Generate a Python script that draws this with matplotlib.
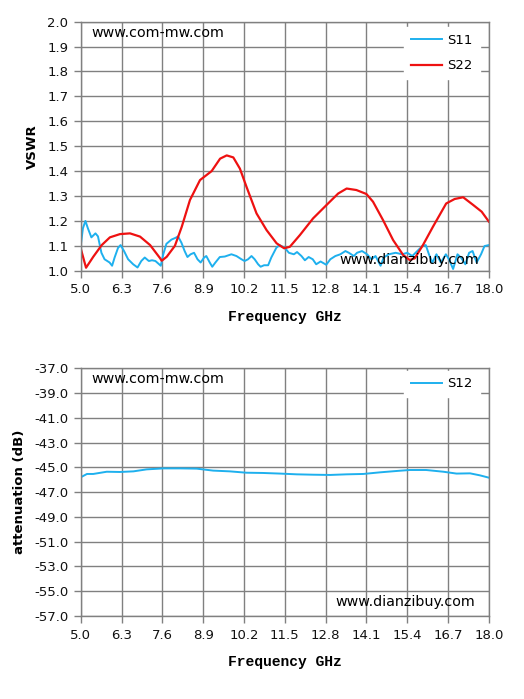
import numpy as np
import matplotlib.pyplot as plt

# S-parameter data
s22_f = [5.0, 5.17, 5.4, 5.67, 5.93, 6.25, 6.57, 6.89, 7.21, 7.53, 7.58, 7.74, 8.0, 8.22,
         8.48, 8.8, 9.17, 9.44, 9.65, 9.86, 10.07, 10.28, 10.6, 10.92, 11.24, 11.48, 11.66,
         11.98, 12.4, 12.83, 13.2, 13.47, 13.78, 14.1, 14.31, 14.63, 14.95, 15.27, 15.48,
         15.64, 15.9, 16.22, 16.64, 16.91, 17.18, 17.5, 17.77, 18.0]
s22 = [1.09, 1.012, 1.056, 1.103, 1.134, 1.147, 1.15, 1.137, 1.103, 1.05, 1.04, 1.056, 1.10,
       1.177, 1.284, 1.364, 1.40, 1.45, 1.463, 1.455, 1.41, 1.337, 1.23, 1.163, 1.11, 1.09,
       1.096, 1.143, 1.21, 1.264, 1.31, 1.33, 1.324, 1.308, 1.277, 1.203, 1.123, 1.063,
       1.043, 1.05, 1.103, 1.177, 1.27, 1.288, 1.295, 1.264, 1.237, 1.197]

s11_f = [5.0, 5.07, 5.15, 5.23, 5.34, 5.47, 5.55, 5.66, 5.76, 5.92, 6.0, 6.08, 6.19, 6.27,
         6.38, 6.51, 6.67, 6.81, 6.93, 7.04, 7.17, 7.27, 7.38, 7.47, 7.55, 7.63, 7.73, 7.89,
         8.02, 8.10, 8.21, 8.31, 8.40, 8.5, 8.61, 8.72, 8.82, 8.93, 9.0, 9.11, 9.19, 9.29,
         9.43, 9.59, 9.8, 9.96, 10.12, 10.22, 10.33, 10.44, 10.54, 10.65, 10.73, 10.84,
         10.97, 11.07, 11.23, 11.33, 11.5, 11.63, 11.79, 11.89, 12.03, 12.14, 12.26, 12.39,
         12.5, 12.64, 12.82, 12.95, 13.11, 13.27, 13.43, 13.54, 13.7, 13.8, 13.96, 14.12,
         14.26, 14.39, 14.55, 14.65, 14.81, 15.03, 15.24, 15.4, 15.56, 15.72, 15.88, 15.99,
         16.09, 16.2, 16.33, 16.47, 16.63, 16.73, 16.86, 17.0, 17.11, 17.25, 17.37, 17.48,
         17.61, 17.75, 17.86, 18.0]
s11 = [1.099, 1.17, 1.20, 1.17, 1.134, 1.15, 1.138, 1.072, 1.046, 1.033, 1.02, 1.053, 1.092,
       1.103, 1.079, 1.046, 1.026, 1.013, 1.039, 1.053, 1.039, 1.042, 1.039, 1.029, 1.02,
       1.066, 1.108, 1.125, 1.132, 1.138, 1.112, 1.079, 1.055, 1.066, 1.072, 1.046, 1.033,
       1.053, 1.059, 1.033, 1.016, 1.033, 1.055, 1.057, 1.066, 1.059, 1.046, 1.039, 1.046,
       1.059, 1.046, 1.026, 1.016, 1.022, 1.022, 1.053, 1.092, 1.103, 1.092, 1.072, 1.066,
       1.075, 1.059, 1.042, 1.055, 1.046, 1.026, 1.037, 1.024, 1.046, 1.059, 1.066, 1.079,
       1.072, 1.059, 1.072, 1.079, 1.066, 1.046, 1.059, 1.02, 1.053, 1.066, 1.072, 1.066,
       1.072, 1.059, 1.079, 1.099, 1.103, 1.066, 1.033, 1.066, 1.033, 1.066, 1.046, 1.007,
       1.066, 1.053, 1.026, 1.072, 1.079, 1.033, 1.066, 1.099, 1.103]

s12_f = [5.0, 5.2, 5.4, 5.83, 6.25, 6.68, 7.1, 7.63, 8.16, 8.69, 9.22, 9.75, 10.28, 10.8,
         11.35, 11.88, 12.4, 12.94, 13.47, 14.0, 14.53, 15.06, 15.48, 16.0, 16.55, 16.97,
         17.4, 17.71, 18.0]
s12 = [-45.8, -45.53, -45.53, -45.35, -45.37, -45.32, -45.16, -45.08, -45.08, -45.1, -45.26,
       -45.32, -45.43, -45.45, -45.5, -45.56, -45.59, -45.61, -45.56, -45.53, -45.4, -45.29,
       -45.21, -45.21, -45.35, -45.5, -45.48, -45.64, -45.83]

xticks = [5.0, 6.3, 7.6, 8.9, 10.2, 11.5, 12.8, 14.1, 15.4, 16.7, 18.0]
vswr_ticks = np.round(np.arange(1.0, 2.01, 0.1), 1)
att_ticks = np.arange(-57.0, -36.9, 2.0)

blue = '#1EB0EE'
red = '#EE1111'
grid_c = '#808080'

fig = plt.figure(figsize=(5.24, 6.99), dpi=100)
ax1 = fig.add_axes([0.154, 0.6127, 0.779, 0.3563])
ax2 = fig.add_axes([0.154, 0.1187, 0.779, 0.3544])


def style(ax, yt, ylab):
    ax.set_xlim(5.0, 18.0)
    ax.set_xticks(xticks)
    ax.set_xticklabels(['%.1f' % v for v in xticks])
    ax.set_yticks(yt)
    ax.set_yticklabels(['%.1f' % v for v in yt])
    ax.set_ylim(yt[0], yt[-1])
    ax.grid(True, color=grid_c, linewidth=1.0)
    ax.set_axisbelow(True)
    for s in ax.spines.values():
        s.set_color(grid_c)
        s.set_linewidth(1.0)
    ax.tick_params(direction='out', length=5, width=1, color=grid_c,
                   labelsize=9.5, labelcolor='#111111', pad=4)
    ax.set_xlabel('Frequency GHz', family='Liberation Mono', weight='bold',
                  fontsize=10.5, labelpad=10)
    ax.set_ylabel(ylab, weight='bold', fontsize=9.5, labelpad=6)


def legend(ax, top, **kw):
    leg = ax.legend(loc='upper right', frameon=True, fontsize=9.5, handlelength=2.4,
                    handletextpad=0.4, bbox_to_anchor=(0.977, top), borderaxespad=0,
                    borderpad=0.5, **kw)
    leg.get_frame().set_edgecolor('white')
    leg.get_frame().set_facecolor('white')
    leg.get_frame().set_alpha(1)
    leg.get_frame().set_boxstyle('square', pad=0)


ax1.plot(s11_f, s11, color=blue, lw=1.4, label='S11')
ax1.plot(s22_f, s22, color=red, lw=1.6, label='S22')
style(ax1, vswr_ticks, 'VSWR')
legend(ax1, 0.978, labelspacing=0.95)
ax1.text(0.027, 0.955, 'www.com-mw.com', transform=ax1.transAxes, fontsize=10.25,
         va='center', ha='left')
ax1.text(0.635, 0.045, 'www.dianzibuy.com', transform=ax1.transAxes, fontsize=10.25,
         va='center', ha='left', zorder=5)

ax2.plot(s12_f, s12, color=blue, lw=1.4, label='S12')
style(ax2, att_ticks, 'attenuation (dB)')
legend(ax2, 0.99)
ax2.text(0.027, 0.955, 'www.com-mw.com', transform=ax2.transAxes, fontsize=10.25,
         va='center', ha='left')
ax2.text(0.625, 0.055, 'www.dianzibuy.com', transform=ax2.transAxes, fontsize=10.25,
         va='center', ha='left', zorder=5)

fig.savefig('out.png', dpi=100)
